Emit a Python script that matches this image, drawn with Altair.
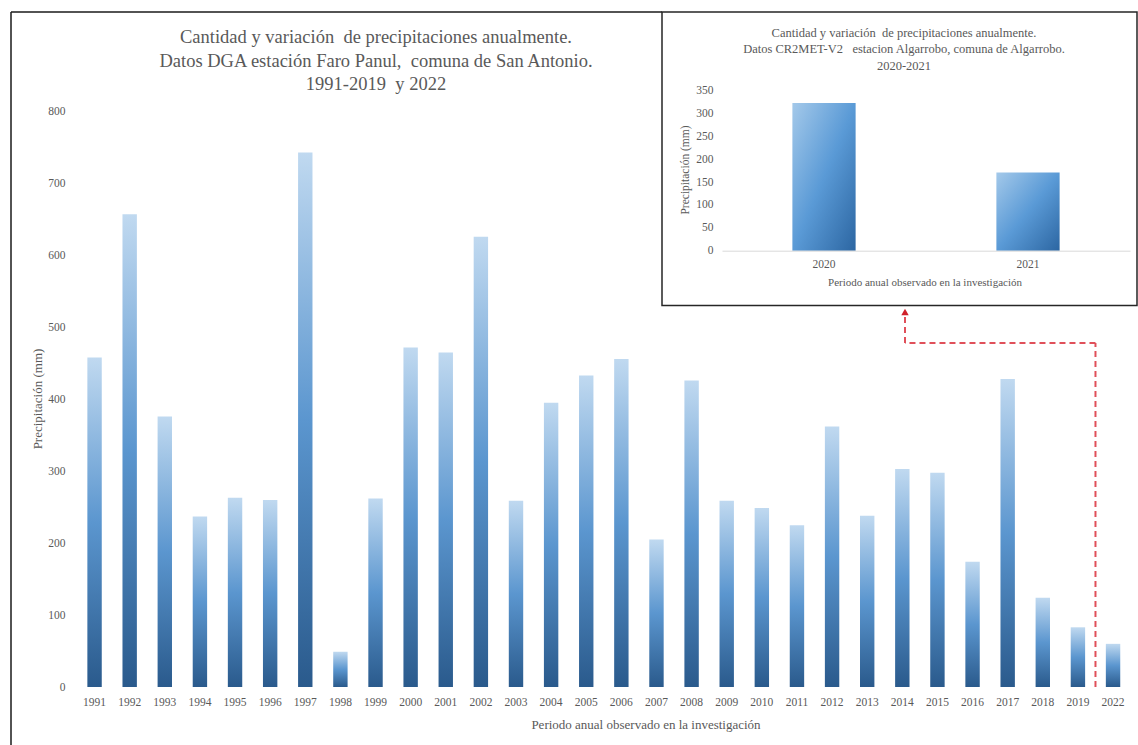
import altair as alt
import pandas as pd

# Annual precipitation, DGA Faro Panul station (mm)
YEARS = ["1991", "1992", "1993", "1994", "1995", "1996", "1997", "1998", "1999", "2000",
         "2001", "2002", "2003", "2004", "2005", "2006", "2007", "2008", "2009", "2010",
         "2011", "2012", "2013", "2014", "2015", "2016", "2017", "2018", "2019", "2022"]
PRECIP_MM = [458, 657, 376, 237, 263, 260, 743, 49, 262, 472,
             465, 626, 259, 395, 433, 456, 205, 426, 259, 249,
             225, 362, 238, 303, 298, 174, 428, 124, 83, 60]
MAIN_TICKS = [0, 100, 200, 300, 400, 500, 600, 700, 800]

# CR2MET-V2 Algarrobo (mm)
INSET_YEARS = ["2020", "2021"]
INSET_MM = [323, 171]
INSET_TICKS = [0, 50, 100, 150, 200, 250, 300, 350]

MAIN_TITLE = ("Cantidad y variación\u00a0 de precipitaciones anualmente.\n"
              "Datos DGA estación Faro Panul,\u00a0 comuna de San Antonio.\n"
              "1991-2019\u00a0 y 2022")
INSET_TITLE = ("Cantidad y variación\u00a0 de precipitaciones anualmente.\n"
               "Datos CR2MET-V2\u00a0\u00a0 estacion Algarrobo, comuna de Algarrobo.\n"
               "2020-2021")
Y_TITLE = "Precipitación (mm)"
X_TITLE = "Periodo anual observado en la investigación"

FONT = "Liberation Serif"
GREY = "#595959"
RED = "#e0505a"

W, H = 1138, 745
# pixel frame of the main plot and of the inset plot
MX0, MX1, MY0, MY1 = 77, 1130.6, 687, 111.5
IX0, IX1, IY0, IY1 = 722, 1130, 250.7, 90.7
BOX = dict(x0=662, x1=1137, y0=12, y1=305.5)

main_df = pd.DataFrame({"year": YEARS, "mm": PRECIP_MM})
inset_df = pd.DataFrame({"year": INSET_YEARS, "mm": INSET_MM})
one = pd.DataFrame({"k": [0]})

bar_fill = {
    "gradient": "linear", "x1": 0, "y1": 1, "x2": 0, "y2": 0,
    "stops": [
        {"offset": 0, "color": "#2a5a8c"},
        {"offset": 0.5, "color": "#5b96cf"},
        {"offset": 1, "color": "#c0d9f0"},
    ],
}
inset_fill = {
    "gradient": "linear", "x1": 0, "y1": 0, "x2": 1, "y2": 1,
    "stops": [
        {"offset": 0, "color": "#a4c9ea"},
        {"offset": 0.5, "color": "#5a9ad6"},
        {"offset": 1, "color": "#2c66a2"},
    ],
}

x_main_scale = alt.Scale(domain=YEARS, range=[MX0, MX1], paddingInner=0, paddingOuter=0)
lab = dict(labelFont=FONT, labelColor=GREY)
txt = dict(font=FONT, color=GREY)

main_bars = alt.Chart(main_df).mark_bar(
    width={"band": 0.41}, color=bar_fill, strokeWidth=0
).encode(
    x=alt.X("year:O", scale=x_main_scale, axis=None),
    y=alt.Y("mm:Q", scale=alt.Scale(domain=[0, 800], range=[MY0, MY1], nice=False),
            axis=alt.Axis(orient="left", offset=-MX0, values=MAIN_TICKS, domain=False, ticks=False,
                          grid=False, labelPadding=12, labelFontSize=11.5, title=None, **lab)),
)

# year labels under each bar, placed by the band scale
year_labels = alt.Chart(main_df).mark_text(
    fontSize=11.5, align="center", baseline="middle", **txt
).encode(
    x=alt.X("year:O", scale=x_main_scale, axis=None),
    y=alt.value(703),
    text="year:N",
)

# dashed connector from the 2022 bar to the inset
last = main_df[main_df["year"] == "2022"]
dash = dict(color=RED, strokeDash=[6, 4], strokeWidth=2)
conn_v = alt.Chart(last).mark_rule(**dash).encode(
    x=alt.X("year:O", bandPosition=0, scale=x_main_scale, axis=None),
    y=alt.value(MY0), y2=alt.value(343),
)
conn_h = alt.Chart(last).mark_rule(**dash).encode(
    x=alt.X("year:O", bandPosition=0, scale=x_main_scale, axis=None),
    x2=alt.value(905), y=alt.value(343),
)
conn_up = alt.Chart(one).mark_rule(**dash).encode(
    x=alt.value(905), y=alt.value(343), y2=alt.value(316),
)
arrow_head = alt.Chart(one).mark_point(
    shape="triangle-up", filled=True, size=55, color="#d0202a", opacity=1
).encode(x=alt.value(905), y=alt.value(312))

# outer frame lines
frame_left = alt.Chart(one).mark_rule(color="#1a1a1a", strokeWidth=1.5).encode(
    x=alt.value(11), y=alt.value(12), y2=alt.value(H))
frame_top = alt.Chart(one).mark_rule(color="#1a1a1a", strokeWidth=1.5).encode(
    x=alt.value(11), x2=alt.value(BOX["x0"]), y=alt.value(12))

main_title = alt.Chart(one).mark_text(
    fontSize=18.5, lineBreak="\n", lineHeight=23.5, align="center", baseline="middle", **txt
).encode(x=alt.value(376), y=alt.value(37), text=alt.value(MAIN_TITLE))
main_ytitle = alt.Chart(one).mark_text(
    fontSize=13, angle=270, align="center", baseline="middle", **txt
).encode(x=alt.value(38), y=alt.value(399), text=alt.value(Y_TITLE))
main_xtitle = alt.Chart(one).mark_text(
    fontSize=13, align="center", baseline="middle", **txt
).encode(x=alt.value(646), y=alt.value(725), text=alt.value(X_TITLE))

main_layer = alt.layer(frame_left, frame_top, main_bars, year_labels, conn_v, conn_h, conn_up,
                       arrow_head, main_title, main_ytitle, main_xtitle)

# inset chart
inset_box = alt.Chart(one).mark_rect(fill="white", stroke="#262626", strokeWidth=1.5).encode(
    x=alt.value(BOX["x0"]), x2=alt.value(BOX["x1"]), y=alt.value(BOX["y0"]), y2=alt.value(BOX["y1"]))
inset_bars = alt.Chart(inset_df).mark_bar(
    width={"band": 0.31}, color=inset_fill, strokeWidth=0
).encode(
    x=alt.X("year:O", scale=alt.Scale(domain=INSET_YEARS, range=[IX0, IX1], paddingInner=0, paddingOuter=0),
            axis=alt.Axis(orient="bottom", offset=IY0 - H, domain=True, domainColor="#d9d9d9",
                          domainWidth=1, ticks=False, labelAngle=0, labelPadding=8,
                          labelFontSize=11.5, title=None, zindex=1, **lab)),
    y=alt.Y("mm:Q", scale=alt.Scale(domain=[0, 350], range=[IY0, IY1], nice=False),
            axis=alt.Axis(orient="left", offset=-IX0, values=INSET_TICKS, domain=False, ticks=False,
                          grid=False, labelPadding=9, labelFontSize=11.5, title=None, zindex=1, **lab)),
)
inset_title = alt.Chart(one).mark_text(
    fontSize=12.5, lineBreak="\n", lineHeight=16.5, align="center", baseline="middle", **txt
).encode(x=alt.value(904), y=alt.value(32.5), text=alt.value(INSET_TITLE))
inset_ytitle = alt.Chart(one).mark_text(
    fontSize=11.5, angle=270, align="center", baseline="middle", **txt
).encode(x=alt.value(686), y=alt.value(170), text=alt.value(Y_TITLE))
inset_xtitle = alt.Chart(one).mark_text(
    fontSize=11, align="center", baseline="middle", **txt
).encode(x=alt.value(925), y=alt.value(283), text=alt.value(X_TITLE))

inset_layer = alt.layer(inset_box, inset_bars, inset_title, inset_ytitle, inset_xtitle)

chart = alt.layer(main_layer, inset_layer).resolve_scale(
    x="independent", y="independent"
).properties(
    width=W, height=H, padding=0, background="white",
    autosize=alt.AutoSizeParams(type="none"),
).configure_view(strokeWidth=0)

chart.save("out.html", embed_options={"renderer": "svg", "actions": False})
